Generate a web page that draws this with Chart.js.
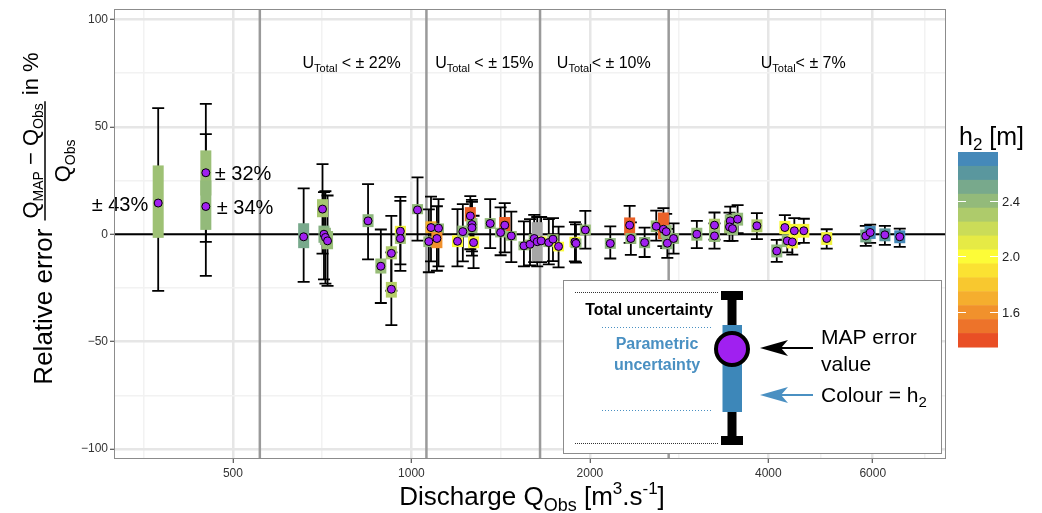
<!DOCTYPE html>
<html><head><meta charset="utf-8">
<script src="https://cdn.jsdelivr.net/npm/chart.js@4.4.1/dist/chart.umd.min.js"></script>
<style>html,body{margin:0;padding:0;background:#fff;}canvas{display:block;}</style>
</head><body>
<canvas id="c" width="1042" height="513" style="width:1042px;height:513px"></canvas>
<script>
// ---------------- DATA ----------------
const qObs   = [374,450,450,658,708,712,716,722,845,888,925,925,958,958,1024,1079,1111,1070,1104,1196,1221,1257,1265,1265,1273,1358,1437,1414,1474,1548,1585,1611,1630,1655,1705,1733,1771,1887,1895,1965,2165,2334,2345,2474,2588,2661,2690,2702,2768,3030,3245,3245,3450,3440,3480,3550,3826,4133,4265,4305,4390,4425,4591,5018,5840,5940,6290,6664];
const relErr = [14.5,28.6,12.9,-1.2,11.7,0,-1.5,-3.1,6.2,-14.9,-8.9,-25.6,1.4,-2,11.3,3.1,2.8,-3.4,-2,-3.3,1.2,8.5,4.5,3.0,-3.9,5,4.2,0.8,-0.8,-5.4,-4.7,-2,-3.5,-3.1,-3.9,-2.3,-5.7,-3.6,-4.3,2,-4.3,4.2,-2,-3.9,3.7,2.3,1.2,-4.2,-2,0,4.2,-0.8,6.2,3.4,2.6,7,3.9,-7.8,3.1,-3.1,-3.6,1.6,1.6,-2,-0.8,0.8,-0.3,-1.2];
const totLo  = [-26.4,-3.6,-19.4,-22.2,-9,-21,-23,-24,-11.7,-32,-26.3,-42.3,-14,-17.1,-3,-12.6,-15,-17.7,-17,-15,-12.6,-7,-8,-10,-15.8,-6.5,-8.5,-9.8,-13,-15,-14.5,-13,-15,-13,-14,-12.5,-15.4,-12.6,-13.2,-6.7,-11.3,-4,-9.6,-10.6,-3,-5.5,-6.5,-11,-9,-6.5,-2.5,-6.7,0,-3.1,-3.1,0.5,-2.3,-12.9,-2.5,-8.5,-9.5,-4.5,-4,-6.7,-5.4,-4,-5,-5.9];
const totHi  = [58.7,60.6,46.6,21.3,32.6,19.6,20,18,23.3,2.2,8.5,-8.5,17.4,15.5,26.4,17.5,16.3,11.6,13,11.7,14,17.7,16,15,8.6,16.3,14.5,12.5,10.5,6,7,9,8,8,7,7.5,3.5,5.6,4.6,10.9,3.6,13.2,5.5,3.1,11,12.1,9.5,2.5,5,6.2,10.1,5,12.8,10,9,13.5,9.8,-2.6,8.9,2.5,2.5,7.5,7.2,2.3,3.9,4.5,3.9,2.6];
const parLo  = [-1.7,18,2,-6.5,7.9,-4,-5,-7,3.3,-18.3,-11.7,-29.5,-1.1,-4.5,9.3,0.5,0.5,-6,-6.5,-6,-1.5,6,1.5,0.5,-6.5,2.5,1.4,-1.5,-3,-7.5,-7,-4,-12.6,-5,-6,-4.5,-8,-6,-6.5,-0.5,-6.8,-0.3,-4.5,-6.5,1,-2.3,-1.8,-7,-4.5,-3,1.2,-3.6,3.2,0.4,-0.4,4,0.9,-10.8,0,-6,-6.6,-1.6,-1.6,-5,-3.8,-2.2,-3.3,-4.2];
const parHi  = [32,39,25,5.1,16.3,4,3,1.5,9.3,-11.3,-5.6,-22.2,3.9,0.5,14,6,5,-1,1,-0.5,4,12.6,7.5,6,-1,7.5,8,3,1.5,-3.3,-2.5,0,5.6,-1,-2,0,-3.5,-1.2,-2,4.5,-1.8,7.8,0.5,-1.3,6.4,10.1,4.2,-1.4,0.5,3,7.2,2,9.2,6.4,5.6,10,6.9,-4.8,6.2,0,-0.6,4.8,4.8,1,2.2,3.8,2.7,1.8];
const h2m    = [2.36,2.37,2.4,2.5,2.33,2.45,2.42,2.38,2.42,2.38,2.3,2.28,2.05,2.35,2.4,1.7,2.4,2.4,1.6,2.0,2.4,1.45,2.38,2.4,2.02,2.4,1.45,2.4,2.38,2.4,2.35,2.4,null,2.02,2.4,2.35,2.0,2.0,2.4,2.38,2.42,1.45,2.4,2.42,2.38,1.45,2.4,2.42,2.4,2.4,2.3,2.4,2.4,2.35,2.4,2.4,2.3,2.42,2.02,2.4,2.05,2.02,2.03,2.05,2.5,2.72,2.6,2.72];

const xMajorTicks = [500,1000,2000,4000,6000];
const xMinorTicks = [354,707,1414,2828,4899,7348];
const yMajorTicks = [-100,-50,0,50,100];
const yMinorTicks = [-75,-25,25,75];
const limitQ      = [555,1060,1648,2716];
const limitText   = [' < ± 22%',' < ± 15%','< ± 10%','< ± 7%'];
const limitTextQ  = [793,1327,2111,4581];
const pctLabels   = ['± 43%','± 32%','± 34%'];
const pctIndex    = [0,1,2];
const h2Bands     = [2.7,2.6,2.5,2.4,2.3,2.2,2.1,2.0,1.9,1.8,1.7,1.6,1.5,1.4];
const h2TickVals  = [2.4,2.0,1.6];
const h2TickText  = ['2.4','2.0','1.6'];

// ---------------- STYLE ----------------
const palette = {1.4:'#e94f25',1.5:'#ed732a',1.6:'#f1912c',1.7:'#f5ae2e',1.8:'#f8c82f',1.9:'#fbe232',2.0:'#fdfc37',2.1:'#e6ea45',2.2:'#cbdc58',2.3:'#aecb6b',2.4:'#93ba7a',2.5:'#78a98c',2.6:'#5a979e',2.7:'#4589b9'};
const FONT = '"Liberation Sans", Arial, Helvetica, sans-serif';
function font(s,b){return (b?'bold ':'')+s+'px '+FONT;}
function hex2rgb(h){return [parseInt(h.substr(1,2),16),parseInt(h.substr(3,2),16),parseInt(h.substr(5,2),16)];}
function colorFor(h){
  if(h===null||h===undefined) return '#a6a6a6';
  const keys=Object.keys(palette).map(Number).sort((a,b)=>a-b);
  if(h<=keys[0]) return palette[keys[0]];
  if(h>=keys[keys.length-1]) return palette[keys[keys.length-1]];
  for(let k=0;k<keys.length-1;k++){
    if(h>=keys[k]&&h<=keys[k+1]){
      const t=(h-keys[k])/(keys[k+1]-keys[k]);
      const a=hex2rgb(palette[keys[k]]),b=hex2rgb(palette[keys[k+1]]);
      return 'rgb('+a.map((v,i)=>Math.round(v+(b[i]-v)*t)).join(',')+')';
    }
  }
}
function richWidth(ctx,parts){let w=0;for(const p of parts){ctx.font=font(p.s,p.b);w+=ctx.measureText(p.t).width;}return w;}
function drawRich(ctx,parts,x,y,align,color){
  const w=richWidth(ctx,parts);
  let cx=align==='center'?x-w/2:(align==='right'?x-w:x);
  ctx.textAlign='left';ctx.textBaseline='alphabetic';
  for(const p of parts){ctx.font=font(p.s,p.b);ctx.fillStyle=p.c||color||'#000';ctx.fillText(p.t,cx,y+(p.dy||0));cx+=ctx.measureText(p.t).width;}
  return w;
}
function arrow(ctx,x1,x2,y,col){
  ctx.save();ctx.strokeStyle=col;ctx.fillStyle=col;ctx.lineWidth=2;
  ctx.beginPath();ctx.moveTo(x1,y);ctx.lineTo(x2+18,y);ctx.stroke();
  ctx.beginPath();ctx.moveTo(x2,y);ctx.lineTo(x2+28,y-8);ctx.lineTo(x2+21,y);ctx.lineTo(x2+28,y+8);ctx.closePath();ctx.fill();
  ctx.restore();
}

const isXMajor=v=>xMajorTicks.includes(v);
const isYMajor=v=>yMajorTicks.includes(v);

const drawPlugin={
  id:'errbars',
  beforeDatasetsDraw(chart){
    const {ctx,chartArea:a,scales:{x,y}}=chart;
    ctx.save();
    ctx.beginPath();ctx.rect(a.left,a.top,a.right-a.left,a.bottom-a.top);ctx.clip();
    // uncertainty class limits
    ctx.strokeStyle='#9a9a9a';ctx.lineWidth=2.5;
    for(const q of limitQ){const px=x.getPixelForValue(q);ctx.beginPath();ctx.moveTo(px,a.top);ctx.lineTo(px,a.bottom);ctx.stroke();}
    // zero line
    const y0=y.getPixelForValue(0);
    ctx.strokeStyle='#000';ctx.lineWidth=2;
    ctx.beginPath();ctx.moveTo(a.left,y0);ctx.lineTo(a.right,y0);ctx.stroke();
    // total uncertainty whiskers
    ctx.strokeStyle='#000';ctx.lineWidth=1.8;
    for(let i=0;i<qObs.length;i++){
      const px=x.getPixelForValue(qObs[i]);
      const y1=y.getPixelForValue(totHi[i]),y2=y.getPixelForValue(totLo[i]);
      ctx.beginPath();
      ctx.moveTo(px,y1);ctx.lineTo(px,y2);
      ctx.moveTo(px-6,y1);ctx.lineTo(px+6,y1);
      ctx.moveTo(px-6,y2);ctx.lineTo(px+6,y2);
      ctx.stroke();
    }
    // parametric uncertainty boxes
    for(let i=0;i<qObs.length;i++){
      const px=x.getPixelForValue(qObs[i]);
      const y1=y.getPixelForValue(parHi[i]),y2=y.getPixelForValue(parLo[i]);
      ctx.fillStyle=colorFor(h2m[i]);
      ctx.fillRect(px-5.5,y1,11,y2-y1);
    }
    ctx.restore();
  },
  afterDatasetsDraw(chart){
    const {ctx,scales:{x,y}}=chart;
    ctx.save();
    // class labels
    for(let k=0;k<limitText.length;k++){
      const px=x.getPixelForValue(limitTextQ[k]);
      drawRich(ctx,[{t:'U',s:16},{t:'Total',s:11,dy:4},{t:limitText[k],s:16}],px,68,'center','#000');
    }
    // percentage labels
    const offs=[[-10,8,'right'],[9,7.5,'left'],[11,8,'left']];
    for(let k=0;k<pctLabels.length;k++){
      const i=pctIndex[k];
      const px=x.getPixelForValue(qObs[i]),py=y.getPixelForValue(relErr[i]);
      ctx.font=font(20);ctx.fillStyle='#000';ctx.textAlign=offs[k][2];ctx.textBaseline='alphabetic';
      ctx.fillText(pctLabels[k],px+offs[k][0],py+offs[k][1]);
    }
    // legend inset
    ctx.fillStyle='#fff';ctx.fillRect(563.5,280.5,378,173);
    ctx.strokeStyle='#8c8c8c';ctx.lineWidth=1;ctx.strokeRect(563.5,280.5,378,173);
    ctx.setLineDash([1,1]);ctx.strokeStyle='#333';ctx.lineWidth=1;
    ctx.beginPath();ctx.moveTo(575,292.5);ctx.lineTo(718,292.5);ctx.moveTo(575,443.5);ctx.lineTo(718,443.5);ctx.stroke();
    ctx.setLineDash([1,2]);ctx.strokeStyle='#4a90c2';
    ctx.beginPath();ctx.moveTo(602,327.5);ctx.lineTo(711,327.5);ctx.moveTo(602,410.5);ctx.lineTo(711,410.5);ctx.stroke();
    ctx.setLineDash([]);
    ctx.strokeStyle='#000';ctx.lineWidth=9;
    ctx.beginPath();ctx.moveTo(732,296);ctx.lineTo(732,441);ctx.stroke();
    ctx.fillStyle='#000';ctx.fillRect(721,291,22,9);ctx.fillRect(721,436,22,9);
    ctx.fillStyle='#3d87b9';ctx.fillRect(722.5,325,19.5,87);
    ctx.beginPath();ctx.arc(732,349,16,0,Math.PI*2);ctx.fillStyle='#a020f0';ctx.fill();
    ctx.lineWidth=4;ctx.strokeStyle='#000';ctx.stroke();
    ctx.textAlign='center';ctx.textBaseline='alphabetic';
    ctx.font=font(16,true);ctx.fillStyle='#000';ctx.fillText('Total uncertainty',649,314.5);
    ctx.fillStyle='#4a90c2';ctx.fillText('Parametric',657,348.5);ctx.fillText('uncertainty',657,369.5);
    arrow(ctx,813,760,348,'#000');
    arrow(ctx,813,760,395,'#4a90c2');
    ctx.textAlign='left';ctx.font=font(21);ctx.fillStyle='#000';
    ctx.fillText('MAP error',821,343.5);ctx.fillText('value',821,370.5);
    drawRich(ctx,[{t:'Colour = h',s:21},{t:'2',s:15,dy:5}],821,402,'left','#000');
    ctx.restore();
  },
  afterDraw(chart){
    const {ctx,chartArea:a}=chart;
    ctx.save();
    ctx.strokeStyle='#8c8c8c';ctx.lineWidth=1;
    ctx.strokeRect(Math.round(a.left)+0.5,Math.round(a.top)+0.5,Math.round(a.right-a.left)-1,Math.round(a.bottom-a.top)-1);
    // x title
    drawRich(ctx,[{t:'Discharge Q',s:26},{t:'Obs',s:18,dy:6},{t:' [m',s:26},{t:'3',s:17,dy:-11},{t:'.s',s:26},{t:'-1',s:17,dy:-11},{t:']',s:26}],532,505,'center','#000');
    // y title (rotated)
    ctx.save();
    ctx.rotate(-Math.PI/2);
    const big=26,mid=22,sub=14;
    const rel=[{t:'Relative error',s:big}];
    const num=[{t:'Q',s:mid},{t:'MAP',s:sub,dy:5},{t:' − ',s:mid},{t:'Q',s:mid},{t:'Obs',s:sub,dy:5}];
    const den=[{t:'Q',s:mid},{t:'Obs',s:sub,dy:5}];
    const tail=[{t:' in %',s:mid}];
    const wRel=richWidth(ctx,rel),wNum=richWidth(ctx,num),wDen=richWidth(ctx,den),wTail=richWidth(ctx,tail);
    const gap=8,wBar=Math.max(wNum,wDen)+4;
    const total=wRel+gap+wBar+wTail;
    const start=-218.5-total/2;
    drawRich(ctx,rel,start,52,'left','#000');
    const bx=start+wRel+gap;
    drawRich(ctx,num,bx+wBar/2,38,'center','#000');
    drawRich(ctx,den,bx+wBar/2,70,'center','#000');
    ctx.strokeStyle='#000';ctx.lineWidth=1.5;
    ctx.beginPath();ctx.moveTo(bx,45);ctx.lineTo(bx+wBar,45);ctx.stroke();
    drawRich(ctx,tail,bx+wBar,38,'left','#000');
    ctx.restore();
    // colour bar
    const cbL=958,cbW=40,cbTop=152,bandH=13.93;
    for(let k=0;k<h2Bands.length;k++){
      ctx.fillStyle=colorFor(h2Bands[k]);
      ctx.fillRect(cbL,cbTop+k*bandH,cbW,bandH+0.5);
    }
    const vToY=v=>cbTop+(2.75-v)/0.1*bandH;
    ctx.strokeStyle='#fff';ctx.lineWidth=1;
    for(let k=0;k<h2TickVals.length;k++){
      const yy=Math.round(vToY(h2TickVals[k]))+0.5;
      ctx.beginPath();ctx.moveTo(cbL,yy);ctx.lineTo(cbL+8,yy);ctx.moveTo(cbL+cbW-8,yy);ctx.lineTo(cbL+cbW,yy);ctx.stroke();
      ctx.font=font(13);ctx.fillStyle='#222';ctx.textAlign='left';ctx.textBaseline='middle';
      ctx.fillText(h2TickText[k],cbL+cbW+4,yy+1);
    }
    drawRich(ctx,[{t:'h',s:25},{t:'2',s:17,dy:5},{t:' [m]',s:25}],959,145,'left','#000');
    ctx.restore();
  }
};

Chart.defaults.font.family=FONT;
new Chart(document.getElementById('c'),{
  type:'scatter',
  data:{datasets:[{
    data:qObs.map((q,i)=>({x:q,y:relErr[i]})),
    pointRadius:4,pointHoverRadius:4,
    pointBackgroundColor:'#a020f0',pointBorderColor:'#000',pointBorderWidth:1
  }]},
  options:{
    responsive:false,animation:false,devicePixelRatio:1,
    layout:{padding:{left:0,right:96,top:9,bottom:0}},
    plugins:{legend:{display:false},tooltip:{enabled:false}},
    scales:{
      x:{
        type:'logarithmic',min:315,max:7975,
        afterBuildTicks:s=>{s.ticks=xMinorTicks.concat(xMajorTicks).sort((a,b)=>a-b).map(v=>({value:v}));},
        afterFit:s=>{s.height=54;},
        border:{display:false},
        grid:{
          color:c=>c.tick&&isXMajor(c.tick.value)?'#e6e6e6':'#f2f2f2',
          lineWidth:c=>c.tick&&isXMajor(c.tick.value)?2.5:1.5,
          tickLength:4,
          tickColor:c=>c.tick&&isXMajor(c.tick.value)?'#333':'rgba(0,0,0,0)',
          tickWidth:1
        },
        ticks:{autoSkip:false,maxRotation:0,minRotation:0,padding:3,color:'#333',font:{size:12},
          callback:v=>isXMajor(v)?String(v):''}
      },
      y:{
        min:-104.6,max:104.7,
        afterBuildTicks:s=>{s.ticks=yMinorTicks.concat(yMajorTicks).sort((a,b)=>a-b).map(v=>({value:v}));},
        afterFit:s=>{s.width=114;},
        border:{display:false},
        grid:{
          color:c=>c.tick&&isYMajor(c.tick.value)?'#e6e6e6':'#f2f2f2',
          lineWidth:c=>c.tick&&isYMajor(c.tick.value)?2.5:1.5,
          tickLength:4,
          tickColor:c=>c.tick&&isYMajor(c.tick.value)?'#333':'rgba(0,0,0,0)',
          tickWidth:1
        },
        ticks:{padding:2,color:'#333',font:{size:12},
          callback:v=>isYMajor(v)?(v<0?'−'+Math.abs(v):String(v)):''}
      }
    }
  },
  plugins:[drawPlugin]
});
</script>
</body></html>
